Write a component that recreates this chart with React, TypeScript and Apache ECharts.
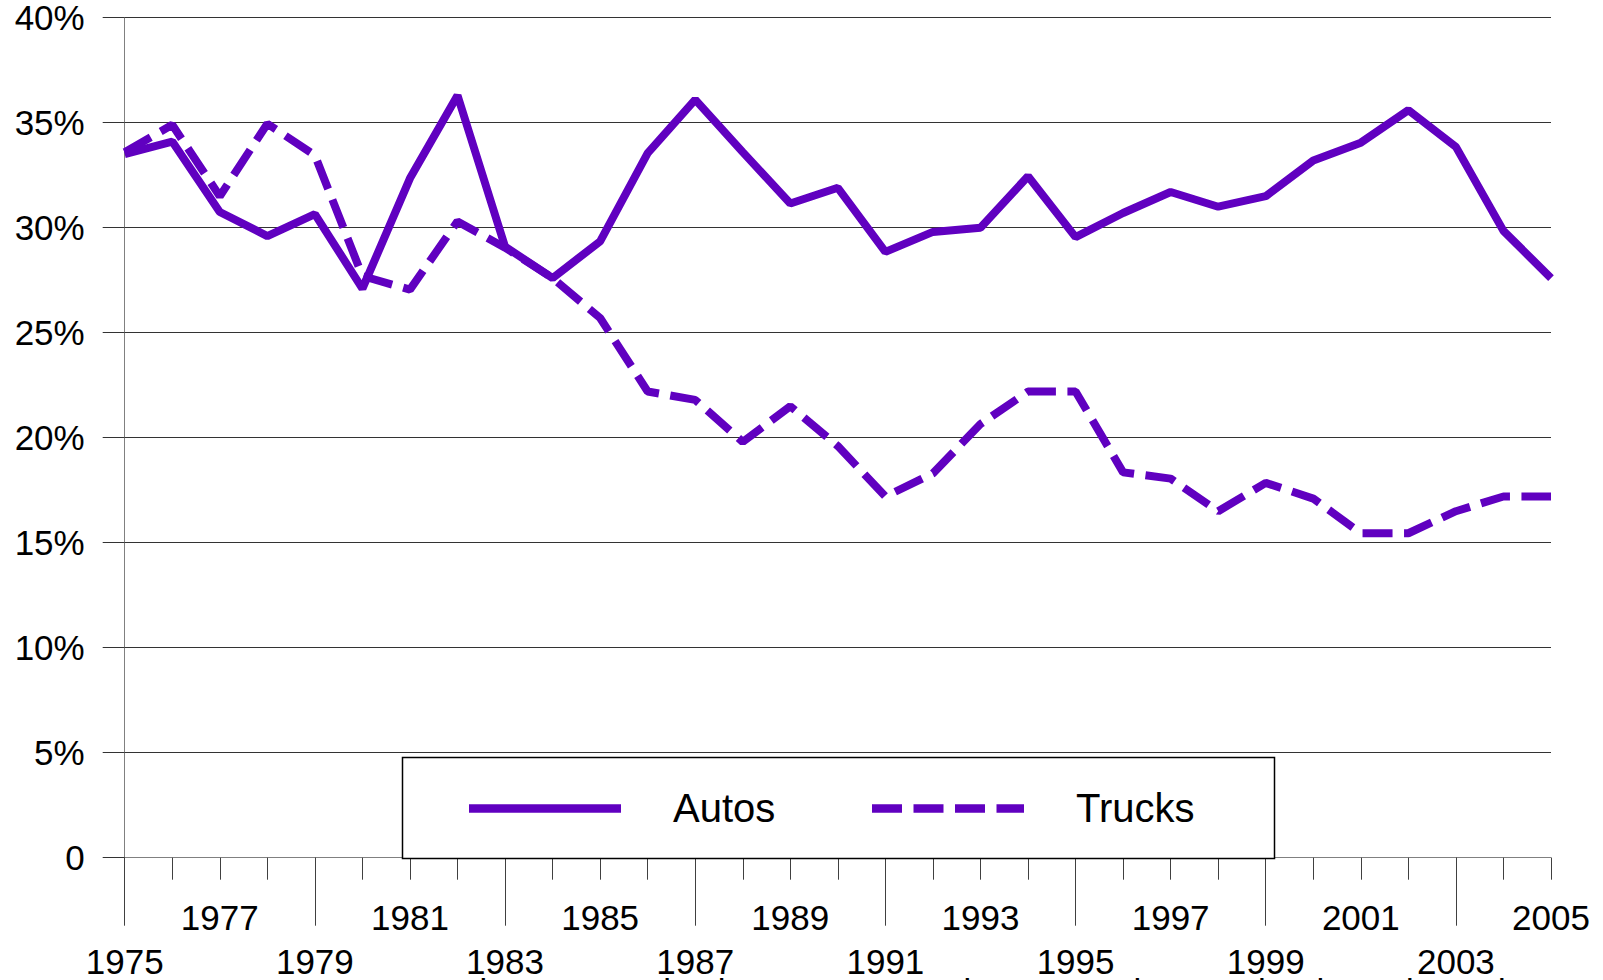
import React, { useEffect, useRef } from 'react';
import * as echarts from 'echarts';

const years = [
  '1975', '1976', '1977', '1978', '1979', '1980', '1981', '1982', '1983', '1984',
  '1985', '1986', '1987', '1988', '1989', '1990', '1991', '1992', '1993', '1994',
  '1995', '1996', '1997', '1998', '1999', '2000', '2001', '2002', '2003', '2004', '2005',
];

const autos = [
  33.5, 34.1, 30.75, 29.6, 30.65, 27.1, 32.35, 36.3, 29.1, 27.6,
  29.35, 33.55, 36.1, 33.6, 31.15, 31.9, 28.85, 29.8, 30.0, 32.45,
  29.55, 30.7, 31.7, 31.0, 31.5, 33.2, 34.05, 35.6, 33.85, 29.85, 27.6,
];

const trucks = [
  33.6, 34.9, 31.5, 34.95, 33.45, 27.7, 27.05, 30.3, 29.05, 27.6,
  25.7, 22.2, 21.8, 19.8, 21.5, 19.6, 17.2, 18.3, 20.65, 22.2,
  22.2, 18.35, 18.05, 16.5, 17.85, 17.1, 15.45, 15.45, 16.5, 17.2, 17.2,
];

const seriesNames = ['Autos', 'Trucks'];
const sourceLabel = 'Source:';
const sourceText = "Ward's Communications, Inc., \u201CWard's Automotive Yearbook\u201D and Ward's";

const FONT = '"Liberation Sans", Arial, Helvetica, sans-serif';
const PURPLE = '#6000C0';
const TRUCK_DASH = [30, 11.5];

export default function App() {
  const ref = useRef<HTMLDivElement>(null);

  useEffect(() => {
    if (!ref.current) return;
    const chart = echarts.init(ref.current, undefined, { renderer: 'svg' });

    const option: any = {
      animation: false,
      backgroundColor: '#ffffff',
      textStyle: { fontFamily: FONT },
      grid: { left: 124.7, right: 52, top: 17.7, bottom: 122.3, containLabel: false },
      xAxis: [
        {
          type: 'category',
          data: years,
          boundaryGap: false,
          position: 'bottom',
          axisLine: { show: true, onZero: false, lineStyle: { color: '#808080', width: 1 } },
          axisTick: { show: true, interval: 0, length: 22, lineStyle: { color: '#404040', width: 1 } },
          axisLabel: {
            interval: (i: number) => i % 4 === 2,
            margin: 42,
            fontSize: 35,
            color: '#000',
            fontFamily: FONT,
          },
          splitLine: { show: false },
        },
        {
          type: 'category',
          data: years,
          boundaryGap: false,
          position: 'bottom',
          axisLine: { show: false, onZero: false },
          axisTick: {
            show: true,
            interval: (i: number) => i % 4 === 0,
            length: 68,
            lineStyle: { color: '#404040', width: 1 },
          },
          axisLabel: {
            interval: (i: number) => i % 4 === 0,
            margin: 86,
            fontSize: 35,
            color: '#000',
            fontFamily: FONT,
          },
          splitLine: { show: false },
        },
      ],
      yAxis: {
        type: 'value',
        min: 0,
        max: 40,
        interval: 5,
        axisLine: { show: true, lineStyle: { color: '#808080', width: 1 } },
        axisTick: { show: true, length: 22, lineStyle: { color: '#333', width: 1 } },
        axisLabel: {
          margin: 40,
          fontSize: 35,
          color: '#000',
          fontFamily: FONT,
          padding: [6, 0, 0, 0],
          formatter: (v: number) => (v === 0 ? '0' : v + '%'),
        },
        splitLine: { show: true, lineStyle: { color: '#333', width: 1 } },
      },
      series: [
        {
          name: seriesNames[0],
          type: 'line',
          xAxisIndex: 0,
          data: autos,
          symbol: 'none',
          lineStyle: { color: PURPLE, width: 8, type: 'solid' },
          itemStyle: { color: PURPLE },
          z: 3,
        },
        {
          name: seriesNames[1],
          type: 'line',
          xAxisIndex: 0,
          data: trucks,
          symbol: 'none',
          lineStyle: { color: PURPLE, width: 8, type: TRUCK_DASH, cap: 'butt' },
          itemStyle: { color: PURPLE },
          z: 2,
        },
      ],
      graphic: [
        {
          type: 'rect',
          z: 100,
          shape: { x: 402.5, y: 757.5, width: 872, height: 101 },
          style: { fill: '#ffffff', stroke: '#000000', lineWidth: 1.5 },
        },
        {
          type: 'line',
          z: 101,
          shape: { x1: 469, y1: 808.5, x2: 621, y2: 808.5 },
          style: { stroke: PURPLE, lineWidth: 8.5 },
        },
        {
          type: 'text',
          z: 101,
          x: 673,
          y: 807.5,
          style: {
            text: seriesNames[0],
            fontSize: 40,
            fontFamily: FONT,
            fill: '#000',
            align: 'left',
            verticalAlign: 'middle',
          },
        },
        {
          type: 'line',
          z: 101,
          shape: { x1: 872, y1: 808.5, x2: 1024, y2: 808.5 },
          style: { stroke: PURPLE, lineWidth: 8.5, lineDash: TRUCK_DASH },
        },
        {
          type: 'text',
          z: 101,
          x: 1076,
          y: 807.5,
          style: {
            text: seriesNames[1],
            fontSize: 40,
            fontFamily: FONT,
            fill: '#000',
            align: 'left',
            verticalAlign: 'middle',
          },
        },
        {
          type: 'text',
          z: 101,
          x: 138,
          y: 974,
          style: {
            text: sourceLabel,
            fontSize: 35,
            fontFamily: FONT,
            fill: '#000',
            align: 'left',
            verticalAlign: 'top',
          },
        },
        {
          type: 'text',
          z: 101,
          x: 405,
          y: 974,
          style: {
            text: sourceText,
            fontSize: 35,
            fontFamily: FONT,
            fill: '#000',
            align: 'left',
            verticalAlign: 'top',
          },
        },
      ],
    };

    chart.setOption(option);
    return () => {
      chart.dispose();
    };
  }, []);

  return (
    <div
      ref={ref}
      style={{ position: 'fixed', left: 0, top: 0, width: 1603, height: 980, background: '#fff' }}
    />
  );
}
